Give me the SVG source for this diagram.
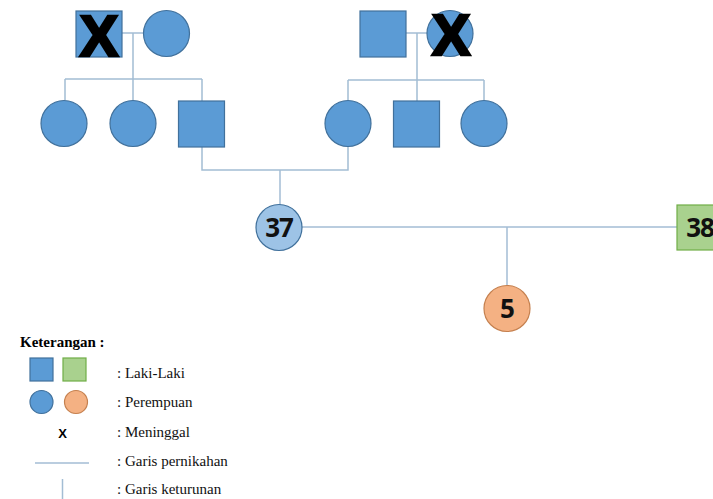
<svg xmlns="http://www.w3.org/2000/svg" width="713" height="499" viewBox="0 0 713 499">
<style>
.line{stroke:#A3BDD4;stroke-width:1.5;fill:none}
.blue{fill:#5B9BD5;stroke:#41719C;stroke-width:1.2}
.lblue{fill:#9DC3E6;stroke:#41719C;stroke-width:1.2}
.green{fill:#A9D18E;stroke:#70AD47;stroke-width:1.2}
.orange{fill:#F4B183;stroke:#C5804F;stroke-width:1.2}
.bigx{font-family:"Liberation Sans",Arial,sans-serif;font-weight:bold;font-size:58px;fill:#000;stroke:#000;stroke-width:2.5;text-anchor:middle}
.num{font-family:"Open Sans","Liberation Sans",sans-serif;font-weight:bold;font-size:26px;fill:#111;text-anchor:middle;letter-spacing:-1px}
.lbl{font-family:"Liberation Serif","Times New Roman",serif;font-size:15px;fill:#111}
.title{font-family:"Liberation Serif","Times New Roman",serif;font-size:15px;font-weight:bold;fill:#000}
</style>
<rect width="713" height="499" fill="#fff"/>
<g id="connectors">
  <path class="line" d="M122 33H143"/>
  <path class="line" d="M133 33V79M65 79H202M65 79V100M133 79V100M202 79V101"/>
  <path class="line" d="M406 33H427"/>
  <path class="line" d="M417 33V80M348 80H484M348 80V100M417 80V101M484 80V100"/>
  <path class="line" d="M202 147V170H348V146"/>
  <path class="line" d="M280 170V205"/>
  <path class="line" d="M301 227H677"/>
  <path class="line" d="M507 227V286"/>
</g>
<g id="gf1"><rect class="blue" x="76" y="11" width="46" height="46"/><text class="bigx" x="99" y="56">X</text></g>
<g id="gm1"><circle class="blue" cx="166.5" cy="33.5" r="23"/></g>
<g id="gf2"><rect class="blue" x="360" y="11" width="46" height="46"/></g>
<g id="gm2"><circle class="blue" cx="450" cy="33.5" r="23"/><text class="bigx" x="451" y="55">X</text></g>
<g id="c1"><circle class="blue" cx="64" cy="123.5" r="23"/></g>
<g id="c2"><circle class="blue" cx="133" cy="123.5" r="23"/></g>
<g id="father"><rect class="blue" x="178.5" y="101" width="46" height="46"/></g>
<g id="mother"><circle class="blue" cx="348" cy="123.5" r="23"/></g>
<g id="c5"><rect class="blue" x="393.5" y="101" width="46" height="46"/></g>
<g id="c6"><circle class="blue" cx="484" cy="123.5" r="23"/></g>
<g id="p37"><circle class="lblue" cx="279" cy="227.5" r="23"/><text class="num" x="279" y="236.5">37</text></g>
<g id="p38"><rect class="green" x="677" y="205" width="46" height="45"/><text class="num" x="700" y="236.5">38</text></g>
<g id="p5"><circle class="orange" cx="507" cy="308.5" r="23"/><text class="num" x="507" y="318">5</text></g>
<g id="legend">
  <text class="title" x="20" y="347">Keterangan :</text>
  <rect class="blue" x="30" y="358" width="23" height="23"/>
  <rect class="green" x="63" y="358" width="23" height="23"/>
  <text class="lbl" x="117" y="378">: Laki-Laki</text>
  <circle class="blue" cx="41.5" cy="402" r="11.5"/>
  <circle class="orange" cx="76" cy="402" r="11.5"/>
  <text class="lbl" x="117" y="407">: Perempuan</text>
  <text x="62.5" y="437.5" font-family="Liberation Sans,Arial,sans-serif" font-weight="bold" font-size="13" text-anchor="middle" fill="#000">X</text>
  <text class="lbl" x="117" y="437">: Meninggal</text>
  <path class="line" d="M35 463H89"/>
  <text class="lbl" x="117" y="466">: Garis pernikahan</text>
  <path class="line" d="M62.5 479V499"/>
  <text class="lbl" x="117" y="494">: Garis keturunan</text>
</g>
</svg>
